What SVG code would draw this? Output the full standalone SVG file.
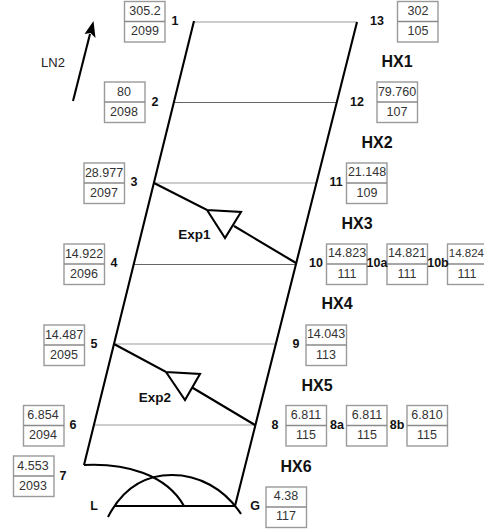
<svg xmlns="http://www.w3.org/2000/svg" width="484" height="529" viewBox="0 0 484 529">
<defs><style>
text{font-family:"Liberation Sans",Arial,sans-serif}
.b rect{fill:#fff;stroke:#9a9a9a;stroke-width:1.4}
.b line{stroke:#8a8a8a;stroke-width:1.4}
.b text{font-size:12.5px;fill:#333;text-anchor:middle}
.n{font-size:12.5px;font-weight:bold;fill:#111;text-anchor:middle}
.h{font-size:16px;font-weight:bold;fill:#111;text-anchor:middle}
.e{font-size:13.5px;font-weight:bold;fill:#111;text-anchor:middle}
.k{fill:none;stroke:#000;stroke-width:2.1}
.g{fill:none;stroke:#bdbdbd;stroke-width:1.3}
.d{fill:none;stroke:#666;stroke-width:1}
</style></defs>
<rect width="484" height="529" fill="#fff"/>
<g id="connectors">
<path class="g" d="M194 22H357M154 183H316M114 344H276M94 425H255"/>
<path class="d" d="M174 102.5H337M134 264.5H296"/>
<path class="k" d="M194 21L84 465M357 22L235 506M114 506H235"/>
<path class="k" d="M154 183L207 210L241 212L225 238L207 210M234 226L296 263"/>
<path class="k" d="M114 344L166 372L200 374L185 400L166 372M193 388L255 425"/>
<path class="k" d="M84 465C125 463 166 474 184 506"/>
<path class="k" d="M108 517C128 478 158 475 172 475C198 475 224 488 241 514"/>
<path fill="none" stroke="#000" stroke-width="2.1" d="M73 101L90 34"/>
<path fill="#000" d="M93.5 21L95.5 38L90.5 33L84.5 34Z"/>
</g>
<text class="h" x="397" y="67">HX1</text>
<text class="h" x="377" y="148">HX2</text>
<text class="h" x="357" y="229">HX3</text>
<text class="h" x="337" y="309">HX4</text>
<text class="h" x="317" y="391">HX5</text>
<text class="h" x="296" y="472">HX6</text>
<text x="53" y="67" font-size="13" fill="#222" text-anchor="middle">LN2</text>
<text class="e" x="194.5" y="239">Exp1</text>
<text class="e" x="155" y="402">Exp2</text>
<g id="n1" class="b"><rect x="124.5" y="1.5" width="40.5" height="40.5"/><line x1="124.5" y1="21.5" x2="165" y2="21.5"/><text x="145" y="15">305.2</text><text x="145" y="35">2099</text></g><text class="n" x="175" y="25">1</text>
<g id="n2" class="b"><rect x="104.5" y="82" width="40.5" height="40.5"/><line x1="104.5" y1="102" x2="145" y2="102"/><text x="124" y="96">80</text><text x="124" y="116">2098</text></g><text class="n" x="155" y="106">2</text>
<g id="n3" class="b"><rect x="84" y="163" width="40.5" height="40.5"/><line x1="84" y1="183" x2="124.5" y2="183"/><text x="104" y="177">28.977</text><text x="104" y="197">2097</text></g><text class="n" x="134" y="186">3</text>
<g id="n4" class="b"><rect x="64" y="244" width="40.5" height="40.5"/><line x1="64" y1="264" x2="104.5" y2="264"/><text x="84" y="258">14.922</text><text x="84" y="278">2096</text></g><text class="n" x="114" y="267">4</text>
<g id="n5" class="b"><rect x="44" y="325" width="40.5" height="40.5"/><line x1="44" y1="345" x2="84.5" y2="345"/><text x="64" y="339">14.487</text><text x="64" y="359">2095</text></g><text class="n" x="94" y="348">5</text>
<g id="n6" class="b"><rect x="23.5" y="405.5" width="40.5" height="40.5"/><line x1="23.5" y1="425.5" x2="64" y2="425.5"/><text x="43" y="419">6.854</text><text x="43" y="439">2094</text></g><text class="n" x="73" y="429">6</text>
<g id="n7" class="b"><rect x="13.5" y="456" width="40.5" height="40.5"/><line x1="13.5" y1="476" x2="54" y2="476"/><text x="33" y="470">4.553</text><text x="33" y="490">2093</text></g><text class="n" x="63" y="480">7</text>
<g id="nL"><text class="n" x="94" y="510">L</text></g>
<g id="nG" class="b"><rect x="266" y="487" width="40.5" height="40.5"/><line x1="266" y1="507" x2="306.5" y2="507"/><text x="286" y="500">4.38</text><text x="286" y="520">117</text></g><text class="n" x="255" y="510">G</text>
<g id="n8" class="b"><rect x="286" y="405.5" width="40.5" height="40.5"/><line x1="286" y1="425.5" x2="326.5" y2="425.5"/><text x="306" y="419">6.811</text><text x="306" y="439">115</text></g><text class="n" x="275" y="429">8</text>
<g id="n8a" class="b"><rect x="346.5" y="405.5" width="40.5" height="40.5"/><line x1="346.5" y1="425.5" x2="387" y2="425.5"/><text x="367" y="419">6.811</text><text x="367" y="439">115</text></g><text class="n" x="337" y="429">8a</text>
<g id="n8b" class="b"><rect x="407" y="405.5" width="40.5" height="40.5"/><line x1="407" y1="425.5" x2="447.5" y2="425.5"/><text x="427" y="419">6.810</text><text x="427" y="439">115</text></g><text class="n" x="397" y="429">8b</text>
<g id="n9" class="b"><rect x="306" y="325" width="40.5" height="40.5"/><line x1="306" y1="345" x2="346.5" y2="345"/><text x="326" y="338">14.043</text><text x="326" y="359">113</text></g><text class="n" x="296" y="348">9</text>
<g id="n10" class="b"><rect x="326.5" y="244" width="40.5" height="40.5"/><line x1="326.5" y1="264" x2="367" y2="264"/><text x="347" y="257">14.823</text><text x="347" y="278">111</text></g><text class="n" x="316" y="267">10</text>
<g id="n10a" class="b"><rect x="387" y="244" width="40.5" height="40.5"/><line x1="387" y1="264" x2="427.5" y2="264"/><text x="407" y="257">14.821</text><text x="407" y="278">111</text></g><text class="n" x="377" y="267">10a</text>
<g id="n10b" class="b"><rect x="447.5" y="244" width="40.5" height="40.5"/><line x1="447.5" y1="264" x2="488" y2="264"/><text x="466.4" y="257" style="font-size:11.5px">14.824</text><text x="467" y="278">111</text></g><text class="n" x="438" y="267">10b</text>
<g id="n11" class="b"><rect x="346.5" y="163" width="40.5" height="40.5"/><line x1="346.5" y1="183" x2="387" y2="183"/><text x="367" y="176">21.148</text><text x="367" y="197">109</text></g><text class="n" x="336" y="186">11</text>
<g id="n12" class="b"><rect x="377" y="82" width="40.5" height="40.5"/><line x1="377" y1="102" x2="417.5" y2="102"/><text x="397" y="96">79.760</text><text x="397" y="116">107</text></g><text class="n" x="357" y="106">12</text>
<g id="n13" class="b"><rect x="397.5" y="1.5" width="40.5" height="40.5"/><line x1="397.5" y1="21.5" x2="438" y2="21.5"/><text x="418" y="15">302</text><text x="418" y="35">105</text></g><text class="n" x="377" y="25">13</text>
</svg>
